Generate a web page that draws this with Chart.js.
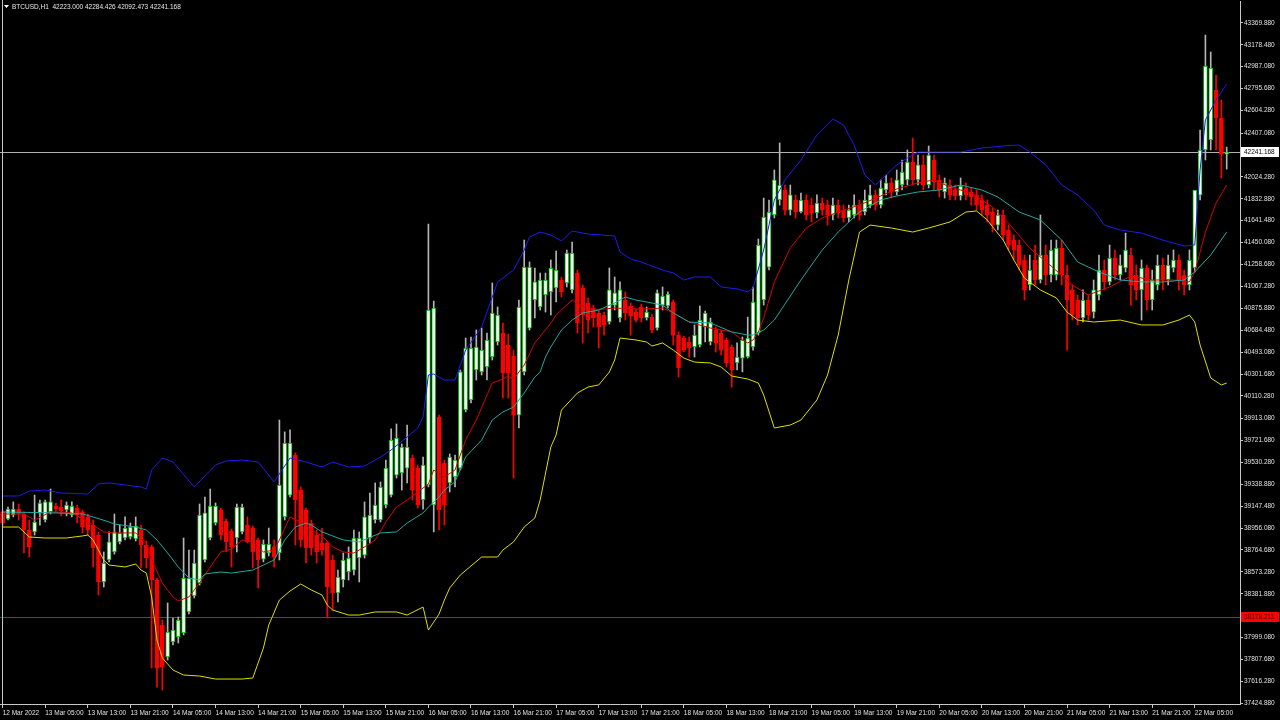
<!DOCTYPE html>
<html>
<head>
<meta charset="utf-8">
<title>BTCUSD,H1</title>
<script src="https://cdn.jsdelivr.net/npm/chart.js@4.4.1/dist/chart.umd.min.js"></script>
<style>
  html, body { margin: 0; padding: 0; background: #000; }
  #chart { display: block; }
</style>
</head>
<body>
<canvas id="chart" width="1280" height="720"></canvas>
<script>
// BTCUSD H1 candles, 12 Mar 21:00 -> 22 Mar 11:00 (2022)
const BAR_SLOTS = 233; // 231 candles + 2 empty slots at the right edge

const headerText = 'BTCUSD,H1  42223.000 42284.426 42092.473 42241.168';
const bidPrice = 42241.168;
const redLinePrice = 38178.211;

const xTickLabels = [
    '12 Mar 2022', '13 Mar 05:00', '13 Mar 13:00', '13 Mar 21:00', '14 Mar 05:00', '14 Mar 13:00',
    '14 Mar 21:00', '15 Mar 05:00', '15 Mar 13:00', '15 Mar 21:00', '16 Mar 05:00', '16 Mar 13:00',
    '16 Mar 21:00', '17 Mar 05:00', '17 Mar 13:00', '17 Mar 21:00', '18 Mar 05:00', '18 Mar 13:00',
    '18 Mar 21:00', '19 Mar 05:00', '19 Mar 13:00', '19 Mar 21:00', '20 Mar 05:00', '20 Mar 13:00',
    '20 Mar 21:00', '21 Mar 05:00', '21 Mar 13:00', '21 Mar 21:00', '22 Mar 05:00'
];

const yTicks = [
    43369.88, 43178.48, 42987.08, 42795.68, 42604.28, 42407.08, 42215.68, 42024.28,
    41832.88, 41641.48, 41450.08, 41258.68, 41067.28, 40875.88, 40684.48, 40493.08,
    40301.68, 40110.28, 39913.08, 39721.68, 39530.28, 39338.88, 39147.48, 38956.08,
    38764.68, 38573.28, 38381.88, 38190.48, 37999.08, 37807.68, 37616.28, 37424.88
];

// [open, high, low, close]
const ohlc = [
    [39097, 39114, 38982, 39000], [39035, 39140, 39026, 39122], [39070, 39184, 39053, 39122], [39122, 39166, 39026, 39079],
    [39079, 39097, 38738, 38939], [38939, 39026, 38703, 38791], [38922, 39244, 38895, 39009], [39088, 39201, 38982, 39175],
    [39026, 39201, 39009, 39184], [39097, 39297, 39079, 39184], [39149, 39175, 39097, 39122], [39140, 39201, 39062, 39105],
    [39114, 39184, 39062, 39157], [39070, 39184, 39053, 39149], [39131, 39157, 39000, 39070], [39097, 39114, 38913, 38965],
    [39053, 39079, 38895, 38939], [38982, 39026, 38616, 38782], [38895, 38922, 38371, 38485], [38485, 38747, 38441, 38651],
    [38677, 38922, 38660, 38835], [38747, 39079, 38729, 38922], [38835, 38982, 38817, 38913], [38869, 39053, 38852, 38956],
    [38878, 39000, 38860, 38965], [38860, 39053, 38843, 38974], [38939, 38982, 38607, 38808], [38808, 38843, 38607, 38694],
    [38791, 38808, 37733, 38502], [38502, 38520, 37567, 37733], [38109, 38153, 37541, 37742], [37830, 38301, 37803, 38048],
    [37961, 38170, 37935, 38065], [38004, 38179, 37952, 38153], [38039, 38869, 38022, 38520], [38223, 38764, 38205, 38520],
    [38363, 38764, 38345, 38651], [38476, 39166, 38458, 39070], [38677, 39227, 38660, 39088], [38869, 39297, 38852, 39149],
    [39000, 39175, 38982, 39149], [39114, 39131, 38852, 38895], [39017, 39035, 38747, 38835], [38930, 38948, 38616, 38791],
    [38869, 39166, 38747, 39140], [38922, 39166, 38904, 39140], [38982, 39053, 38826, 38835], [38956, 38974, 38607, 38747],
    [38852, 38869, 38432, 38677], [38685, 38852, 38660, 38817], [38738, 38956, 38712, 38817], [38791, 38852, 38616, 38703],
    [38738, 39900, 38677, 39332], [39053, 39796, 39026, 39699], [39244, 39813, 39227, 39699], [39594, 39612, 38808, 39201],
    [39288, 39315, 38791, 38852], [39114, 39131, 38651, 38782], [39000, 39026, 38720, 38782], [38895, 38939, 38651, 38747],
    [38826, 38956, 38720, 38764], [38826, 38843, 38170, 38441], [38677, 38720, 38240, 38389], [38389, 38589, 38310, 38528],
    [38502, 38738, 38441, 38677], [38572, 38791, 38502, 38694], [38589, 38939, 38546, 38869], [38694, 38922, 38485, 38869],
    [38720, 39184, 38694, 39053], [38869, 39262, 38826, 39070], [39026, 39350, 39000, 39157], [39026, 39359, 39009, 39315],
    [39157, 39550, 39131, 39480], [39244, 39822, 39227, 39725], [39419, 39865, 39393, 39743], [39437, 39690, 39288, 39663],
    [39480, 39856, 39350, 39663], [39568, 39594, 39201, 39288], [39480, 39507, 39131, 39157], [39201, 39576, 39122, 39507],
    [39332, 41612, 39315, 40861], [39157, 40939, 38922, 40878], [39926, 39943, 38939, 39114], [39524, 39550, 38982, 39157],
    [39350, 39603, 39271, 39577], [39402, 39594, 39315, 39550], [39480, 40337, 39463, 40320], [39987, 40616, 39970, 40529],
    [40075, 40625, 40049, 40529], [40337, 40686, 40249, 40538], [40320, 40703, 40293, 40511], [40363, 40660, 40249, 40599],
    [40450, 41097, 40424, 40835], [40581, 40887, 40555, 40817], [40660, 40747, 40092, 40311], [40555, 40651, 40092, 40311],
    [40459, 40511, 39393, 39943], [39943, 40948, 39830, 40887], [40320, 41472, 40293, 41236], [40703, 41281, 40686, 41236],
    [40948, 41228, 40791, 41106], [40887, 41184, 40861, 41123], [40992, 41184, 40843, 41123], [41019, 41298, 40817, 41228],
    [41054, 41376, 40931, 41210], [41123, 41149, 40975, 41019], [41097, 41385, 41062, 41359], [41036, 41455, 41010, 41359],
    [41184, 41210, 40660, 40747], [41054, 41080, 40573, 40817], [40922, 40966, 40660, 40773], [40878, 40904, 40712, 40791],
    [40835, 40861, 40529, 40712], [40817, 40843, 40642, 40730], [40756, 41228, 40738, 41036], [40904, 41149, 40861, 41010],
    [40791, 41106, 40756, 41036], [40948, 41019, 40773, 40835], [40896, 40922, 40642, 40808], [40843, 40869, 40756, 40773],
    [40887, 40913, 40756, 40791], [40791, 40887, 40773, 40843], [40799, 40826, 40660, 40686], [40703, 41036, 40686, 41010],
    [40904, 41062, 40861, 40983], [40896, 41019, 40878, 41001], [40931, 40948, 40555, 40642], [40642, 40669, 40276, 40354],
    [40616, 40634, 40494, 40511], [40581, 40625, 40450, 40529], [40538, 40730, 40450, 40642], [40555, 40896, 40538, 40773],
    [40712, 40852, 40581, 40835], [40581, 40791, 40555, 40756], [40686, 40712, 40494, 40573], [40660, 40686, 40468, 40511],
    [40599, 40616, 40363, 40398], [40538, 40555, 40188, 40337], [40398, 40573, 40337, 40450], [40441, 40625, 40320, 40599],
    [40450, 40799, 40441, 40616], [40538, 41062, 40511, 40931], [40660, 41481, 40642, 41429], [40948, 41839, 40904, 41673],
    [41236, 41822, 41210, 41717], [41691, 42084, 41665, 41997], [41822, 42320, 41778, 41953], [41909, 41953, 41691, 41734],
    [41734, 41953, 41691, 41866], [41822, 41866, 41665, 41717], [41717, 41883, 41708, 41822], [41822, 41866, 41647, 41691],
    [41778, 41839, 41630, 41708], [41708, 41866, 41665, 41796], [41796, 41839, 41691, 41734], [41778, 41822, 41603, 41691],
    [41691, 41839, 41647, 41778], [41778, 41822, 41665, 41708], [41734, 41778, 41630, 41665], [41665, 41778, 41630, 41734],
    [41691, 41866, 41665, 41778], [41778, 41822, 41647, 41691], [41717, 41909, 41691, 41822], [41778, 41953, 41752, 41866],
    [41866, 41909, 41734, 41778], [41778, 41997, 41752, 41927], [41909, 42040, 41866, 41971], [41971, 42014, 41839, 41892],
    [41892, 42084, 41866, 41997], [41953, 42171, 41909, 42066], [41997, 42259, 41953, 42154], [42154, 42363, 41953, 41997],
    [41997, 42215, 41953, 42128], [42128, 42215, 41909, 41953], [41953, 42294, 41927, 42215], [42171, 42215, 41909, 41979],
    [41997, 42040, 41848, 41909], [41892, 42014, 41839, 41971], [41953, 41997, 41822, 41866], [41909, 41953, 41822, 41857],
    [41857, 42014, 41822, 41944], [41927, 41971, 41822, 41866], [41892, 41927, 41778, 41848], [41866, 41909, 41734, 41778],
    [41822, 41866, 41691, 41734], [41778, 41822, 41630, 41691], [41717, 41752, 41542, 41603], [41603, 41734, 41560, 41691],
    [41691, 41734, 41472, 41516], [41560, 41603, 41385, 41429], [41472, 41516, 41298, 41385], [41429, 41472, 41210, 41254],
    [41298, 41341, 40948, 41036], [41080, 41341, 41036, 41210], [41298, 41429, 41080, 41123], [41123, 41691, 41097, 41341],
    [41341, 41429, 41080, 41167], [41167, 41472, 41106, 41385], [41167, 41472, 41123, 41402], [41402, 41472, 41080, 41167],
    [41167, 41254, 40511, 40948], [41036, 41080, 40773, 40817], [40948, 40992, 40730, 40791], [40791, 41036, 40756, 40948],
    [40948, 40992, 40773, 40817], [40843, 41123, 40791, 41036], [40992, 41341, 40948, 41210], [41210, 41298, 41036, 41106],
    [41106, 41429, 41080, 41315], [41315, 41385, 41123, 41167], [41167, 41341, 41123, 41254], [41228, 41533, 41193, 41385],
    [41341, 41402, 40904, 41080], [41167, 41254, 40948, 41036], [41036, 41298, 40773, 41228], [41228, 41254, 40861, 40948],
    [40948, 41210, 40861, 41123], [41080, 41341, 41036, 41254], [41254, 41315, 41036, 41123], [41123, 41341, 41080, 41254],
    [41228, 41385, 41193, 41298], [41298, 41341, 41036, 41123], [41167, 41210, 40992, 41080], [41080, 41385, 41036, 41298],
    [41228, 41385, 41193, 41909], [41865, 42433, 41822, 42259], [42259, 43263, 42171, 42991], [42346, 43115, 42259, 42975],
    [42783, 42914, 42259, 42538], [42538, 42695, 42014, 42223], [42223, 42284, 42092, 42241]
];

// indicator lines, read as [bar index, price]
const upperBand = [
    [0, 39236], [3, 39236], [5, 39279], [8, 39288], [11, 39262], [16, 39253], [18, 39341], [20, 39350],
    [26, 39315], [27, 39297], [28, 39463], [30, 39568], [32, 39533], [36, 39315], [40, 39507], [42, 39542],
    [45, 39550], [48, 39533], [51, 39359], [54, 39568], [57, 39533], [60, 39489], [62, 39533], [65, 39489],
    [68, 39498], [71, 39577], [73, 39638], [76, 39751], [78, 39830], [79, 39926], [80, 40293], [81, 40302],
    [83, 40249], [85, 40249], [87, 40511], [90, 40712], [92, 40974], [93, 41106], [96, 41210], [98, 41385],
    [99, 41499], [101, 41542], [103, 41516], [105, 41464], [107, 41551], [110, 41525], [115, 41507], [116, 41368],
    [118, 41307], [120, 41280], [124, 41210], [126, 41184], [128, 41123], [130, 41149], [133, 41149], [135, 41062],
    [138, 41045], [140, 41019], [141, 41054], [143, 41385], [145, 41822], [147, 41997], [150, 42171], [153, 42390],
    [156, 42530], [158, 42477], [160, 42302], [162, 42040], [164, 41953], [166, 42040], [168, 42128], [170, 42189],
    [172, 42241], [176, 42241], [180, 42241], [184, 42276], [188, 42294], [191, 42302], [193, 42241], [196, 42128],
    [199, 41953], [202, 41866], [205, 41734], [207, 41603], [210, 41560], [214, 41533], [218, 41472], [222, 41420],
    [224, 41429], [225, 42084], [226, 42521], [228, 42695], [230, 42835]
];

const lowerBand = [
    [0, 38965], [3, 38965], [5, 38878], [8, 38869], [12, 38869], [15, 38887], [16, 38895], [17, 38852],
    [18, 38764], [19, 38677], [20, 38633], [23, 38616], [25, 38642], [26, 38589], [27, 38563], [28, 38354],
    [29, 37978], [30, 37821], [32, 37716], [34, 37672], [37, 37663], [40, 37637], [45, 37637], [47, 37646],
    [49, 37908], [50, 38109], [52, 38327], [54, 38406], [56, 38467], [58, 38415], [60, 38371], [61, 38284],
    [62, 38240], [65, 38196], [67, 38196], [70, 38223], [74, 38223], [76, 38196], [79, 38266], [80, 38065],
    [82, 38205], [83, 38327], [84, 38432], [86, 38546], [90, 38703], [93, 38703], [94, 38764], [96, 38835],
    [98, 38965], [100, 39044], [101, 39201], [103, 39664], [104, 39769], [105, 39987], [108, 40136], [110, 40188],
    [112, 40206], [114, 40319], [115, 40424], [116, 40616], [119, 40599], [121, 40581], [122, 40546], [124, 40573],
    [126, 40511], [128, 40441], [130, 40406], [133, 40398], [135, 40363], [137, 40284], [140, 40258], [142, 40223],
    [143, 40118], [145, 39830], [148, 39856], [150, 39900], [153, 40075], [155, 40293], [157, 40642], [159, 41123],
    [161, 41542], [163, 41603], [167, 41577], [171, 41542], [174, 41577], [178, 41630], [181, 41717], [183, 41726],
    [185, 41647], [188, 41472], [190, 41298], [192, 41140], [195, 41036], [198, 40966], [200, 40843], [202, 40773],
    [205, 40756], [210, 40773], [214, 40730], [218, 40730], [221, 40773], [223, 40817], [224, 40756], [225, 40555],
    [227, 40267], [229, 40206], [230, 40223]
];

const fastMa = [
    [0, 39079], [4, 39079], [6, 39026], [9, 39097], [13, 39088], [17, 38982], [19, 38922], [21, 38913],
    [25, 38913], [27, 38826], [28, 38677], [30, 38476], [32, 38354], [33, 38319], [35, 38354], [37, 38476],
    [39, 38616], [41, 38747], [43, 38773], [45, 38852], [47, 38835], [49, 38747], [51, 38764], [52, 38852],
    [54, 39053], [56, 39009], [58, 38939], [60, 38887], [62, 38791], [64, 38747], [66, 38738], [68, 38791],
    [70, 38852], [72, 39009], [74, 39140], [76, 39201], [78, 39271], [80, 39341], [81, 39463], [83, 39402],
    [85, 39463], [86, 39594], [87, 39725], [89, 39900], [92, 40223], [94, 40258], [95, 40284], [96, 40258],
    [98, 40380], [100, 40573], [103, 40747], [104, 40817], [105, 40861], [107, 40948], [109, 40896], [111, 40861],
    [115, 40878], [120, 40869], [124, 40878], [126, 40835], [129, 40756], [133, 40703], [137, 40669], [139, 40599],
    [140, 40573], [141, 40599], [142, 40669], [143, 40791], [144, 40948], [145, 41106], [148, 41402], [151, 41577],
    [154, 41665], [157, 41717], [161, 41778], [165, 41857], [168, 41918], [172, 41971], [175, 41997], [178, 41935],
    [182, 41883], [186, 41761], [189, 41621], [193, 41402], [197, 41245], [201, 41080], [204, 40992], [208, 41062],
    [212, 41158], [216, 41123], [220, 41123], [223, 41106], [224, 41193], [226, 41542], [228, 41796], [230, 41953]
];

const slowMa = [
    [0, 39097], [10, 39088], [15, 39079], [17, 39053], [20, 39009], [21, 38991], [25, 38965], [27, 38939],
    [29, 38852], [31, 38738], [33, 38616], [35, 38520], [37, 38502], [38, 38555], [41, 38572], [43, 38563],
    [47, 38589], [51, 38677], [53, 38852], [55, 38965], [57, 39000], [58, 38982], [60, 38922], [62, 38887],
    [64, 38852], [67, 38835], [71, 38913], [74, 38922], [76, 39000], [79, 39088], [80, 39140], [82, 39227],
    [83, 39288], [85, 39359], [87, 39577], [90, 39725], [92, 39900], [94, 39970], [96, 40013], [98, 40136],
    [100, 40276], [101, 40319], [102, 40450], [103, 40538], [105, 40686], [107, 40773], [109, 40835], [112, 40861],
    [115, 40922], [117, 40974], [119, 40948], [122, 40922], [124, 40904], [126, 40835], [129, 40756], [133, 40747],
    [137, 40669], [140, 40642], [141, 40642], [143, 40686], [145, 40773], [150, 41123], [154, 41385], [157, 41542],
    [161, 41717], [165, 41822], [168, 41857], [172, 41892], [176, 41909], [180, 41953], [184, 41909], [187, 41848],
    [191, 41717], [195, 41647], [199, 41472], [202, 41280], [206, 41193], [210, 41123], [214, 41106], [218, 41106],
    [222, 41123], [224, 41193], [227, 41341], [230, 41542]
];

const isUp = i => ohlc[i] && ohlc[i][3] >= ohlc[i][0];
const toPoints = knots => knots.map(([i, v]) => ({ x: i, y: v }));

const lineStyle = color => ({
    type: 'line',
    borderColor: color,
    borderWidth: 1,
    pointRadius: 0,
    tension: 0,
    order: 0
});

const overlayPlugin = {
    id: 'overlay',
    beforeDatasetsDraw(chart) {
        const { ctx, chartArea: a, scales: { y } } = chart;
        ctx.save();
        // bid line and red level line as crisp 1px rows
        ctx.fillStyle = '#b0b0b0';
        ctx.fillRect(a.left, Math.round(y.getPixelForValue(bidPrice)), a.right - a.left, 1);
        ctx.fillStyle = '#ff0000';
        ctx.fillRect(a.left, Math.round(y.getPixelForValue(redLinePrice)), a.right - a.left, 1);
        ctx.restore();
    },
    afterDraw(chart) {
        const { ctx, chartArea: a, scales: { y } } = chart;
        ctx.save();
        // left frame line
        ctx.fillStyle = '#c8c8c8';
        ctx.fillRect(2, 0, 1, a.bottom);

        // price labels on the axis
        ctx.font = '6.5px "Liberation Sans"';
        ctx.textBaseline = 'middle';
        const tag = (price, bg, fg) => {
            const py = Math.round(y.getPixelForValue(price));
            ctx.fillStyle = bg;
            ctx.fillRect(a.right + 1, py - 5, 38, 10);
            ctx.fillStyle = fg;
            ctx.fillText(price.toFixed(3), a.right + 4, py + 0.5);
        };
        tag(bidPrice, '#ffffff', '#000000');
        tag(redLinePrice, '#ff0000', '#400000');

        // header
        ctx.fillStyle = '#ffffff';
        ctx.beginPath(); ctx.moveTo(4, 5); ctx.lineTo(9, 5); ctx.lineTo(6.5, 8); ctx.closePath(); ctx.fill();
        ctx.fillStyle = '#e8e8e8';
        ctx.fillText(headerText, 12, 7);
        ctx.restore();
    }
};

new Chart(document.getElementById('chart'), {
    type: 'bar',
    data: {
        labels: Array.from({ length: BAR_SLOTS }, (_, i) => i),
        datasets: [
            { ...lineStyle('#1c1cf0'), label: 'Upper band', data: toPoints(upperBand) },
            { ...lineStyle('#dede00'), label: 'Lower band', data: toPoints(lowerBand) },
            { ...lineStyle('#20a8a0'), label: 'Slow MA', data: toPoints(slowMa) },
            { ...lineStyle('#d80000'), label: 'Fast MA', data: toPoints(fastMa) },
            {
                label: 'Body',
                data: ohlc.map(r => [r[0], r[3]]),
                grouped: false,
                barThickness: 4,
                minBarLength: 1,
                borderWidth: 1,
                borderSkipped: false,
                backgroundColor: ctx => isUp(ctx.dataIndex) ? '#ffffff' : '#ff0000',
                borderColor: ctx => isUp(ctx.dataIndex) ? '#00b400' : '#ff0000',
                order: 1
            },
            {
                label: 'Wick',
                data: ohlc.map(r => [r[2], r[1]]),
                grouped: false,
                barThickness: 1,
                backgroundColor: ctx => isUp(ctx.dataIndex) ? '#b4b4b4' : '#ff0000',
                order: 2
            }
        ]
    },
    options: {
        responsive: false,
        animation: false,
        devicePixelRatio: 1,
        layout: { padding: { left: 0, right: 0, top: 1, bottom: 0 } },
        plugins: { legend: { display: false }, tooltip: { enabled: false } },
        scales: {
            x: {
                type: 'category',
                offset: true,
                grid: { offset: false, drawOnChartArea: false, tickLength: 4, color: '#c8c8c8' },
                border: { color: '#c8c8c8' },
                ticks: {
                    autoSkip: false,
                    maxRotation: 0,
                    minRotation: 0,
                    align: 'start',
                    padding: 1,
                    color: '#e0e0e0',
                    font: { family: 'Liberation Sans', size: 6.5 },
                    callback: value => xTickLabels[value / 8]
                },
                afterBuildTicks: scale => {
                    scale.ticks = scale.ticks.filter(t => t.value % 8 === 0 && t.value / 8 < xTickLabels.length);
                },
                afterFit: scale => {
                    scale.height = 16;
                    scale.paddingLeft = 0;
                    scale.paddingRight = 0;
                }
            },
            y: {
                type: 'linear',
                position: 'right',
                min: 37418.9,
                max: 43560.3,
                grid: { drawOnChartArea: false, tickLength: 3, color: '#c8c8c8' },
                border: { color: '#c8c8c8' },
                ticks: {
                    padding: 1,
                    color: '#e0e0e0',
                    font: { family: 'Liberation Sans', size: 6.5 },
                    callback: value => value.toFixed(3)
                },
                afterBuildTicks: scale => {
                    scale.ticks = yTicks.map(v => ({ value: v }));
                },
                afterFit: scale => {
                    scale.width = 40;
                    scale.paddingTop = 0;
                    scale.paddingBottom = 0;
                }
            }
        }
    },
    plugins: [overlayPlugin]
});
</script>
</body>
</html>
